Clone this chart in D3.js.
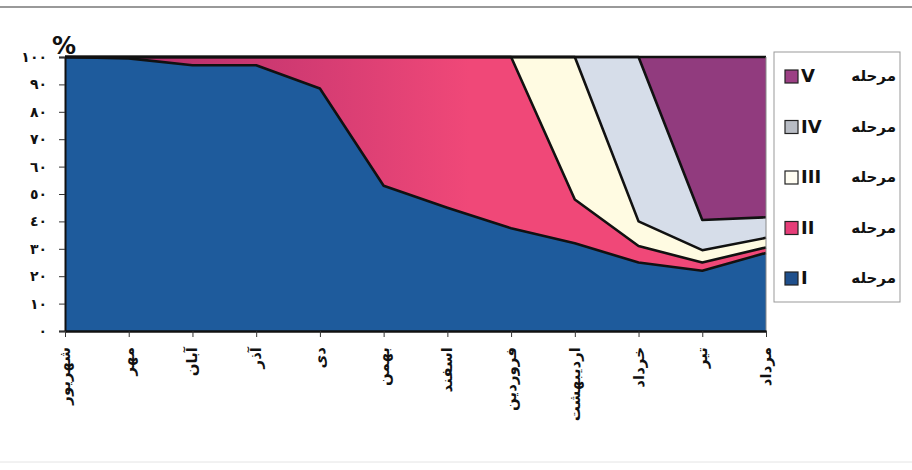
<!DOCTYPE html>
<html>
<head>
<meta charset="utf-8">
<script src="https://cdn.jsdelivr.net/npm/d3@7"></script>
<style>
  body { margin: 0; background: #fff; }
  text { font-family: "DejaVu Sans", sans-serif; font-weight: bold; fill: #111; }
</style>
</head>
<body>
<div id="chart"></div>
<script>
const months = ['شهریور', 'مهر', 'آبان', 'آذر', 'دی', 'بهمن', 'اسفند', 'فروردین', 'اردیبهشت', 'خرداد', 'تیر', 'مرداد'];
const stage1 = [100, 99.5, 97, 97, 88.5, 53, 45, 37.5, 32, 25, 22, 28.5];
const stage2 = [0, 0.5, 3, 3, 11.5, 47, 55, 62.5, 16, 6, 3, 2];
const stage3 = [0, 0, 0, 0, 0, 0, 0, 0, 52, 9, 4.5, 3.5];
const stage4 = [0, 0, 0, 0, 0, 0, 0, 0, 0, 60, 11, 7.5];
const stage5 = [0, 0, 0, 0, 0, 0, 0, 0, 0, 0, 59.5, 58.5];
const yTicks = [0, 10, 20, 30, 40, 50, 60, 70, 80, 90, 100];
const stageNames = ['I', 'II', 'III', 'IV', 'V'];

const width = 912;
const height = 470;
const plotLeft = 65;
const plotRight = 766;
const plotTop = 57;
const plotBottom = 331;

const rows = months.map((m, i) => ({
  month: m, I: stage1[i], II: stage2[i], III: stage3[i], IV: stage4[i], V: stage5[i],
}));

const svg = d3.select('#chart').append('svg')
  .attr('width', width)
  .attr('height', height);

// thin rules of the scanned page
svg.append('line').attr('x1', 0).attr('x2', width).attr('y1', 7).attr('y2', 7)
  .attr('stroke', '#777').attr('stroke-width', 1.5);
svg.append('line').attr('x1', 0).attr('x2', width).attr('y1', 462).attr('y2', 462)
  .attr('stroke', '#e4e4e4').attr('stroke-width', 1);

const defs = svg.append('defs');
const pinkGradient = defs.append('linearGradient')
  .attr('id', 'pinkGrad')
  .attr('gradientUnits', 'userSpaceOnUse')
  .attr('x1', plotLeft).attr('y1', 0)
  .attr('x2', 470).attr('y2', 0);
pinkGradient.append('stop').attr('offset', '0%').attr('stop-color', '#a8296a');
pinkGradient.append('stop').attr('offset', '100%').attr('stop-color', '#f04878');

const colors = {
  I: '#1e5b9c', II: 'url(#pinkGrad)', III: '#fffbe2', IV: '#d6dde9', V: '#913b7e',
};
const swatch = {
  I: '#1e4f8c', II: '#e63d78', III: '#fffdf2', IV: '#b8bcc4', V: '#9c3f84',
};

const x = d3.scalePoint().domain(months).range([plotLeft, plotRight]);
const y = d3.scaleLinear().domain([0, 100]).range([plotBottom, plotTop]);

const series = d3.stack().keys(stageNames)(rows);

const area = d3.area()
  .x((d) => x(d.data.month))
  .y0((d) => y(d[0]))
  .y1((d) => y(Math.min(100, d[1])));

const line = d3.line()
  .x((d) => x(d.data.month))
  .y((d) => y(Math.min(100, d[1])));

svg.append('g').selectAll('path')
  .data(series)
  .enter()
  .append('path')
  .attr('d', area)
  .attr('fill', (d) => colors[d.key]);

svg.append('g').selectAll('path')
  .data(series.slice(0, 4))
  .enter()
  .append('path')
  .attr('d', line)
  .attr('fill', 'none')
  .attr('stroke', '#111')
  .attr('stroke-width', 2.6)
  .attr('stroke-linejoin', 'round');

// frame: top thick, right thin
svg.append('line').attr('x1', plotLeft).attr('x2', plotRight).attr('y1', plotTop).attr('y2', plotTop)
  .attr('stroke', '#111').attr('stroke-width', 2.5);
svg.append('line').attr('x1', plotRight).attr('x2', plotRight).attr('y1', plotTop).attr('y2', plotBottom)
  .attr('stroke', '#888').attr('stroke-width', 1);

const toFa = (v) => String(v).replace(/\d/g, (c) => '٠١٢٣٤٥٦٧٨٩'[+c]);

const yAxis = svg.append('g')
  .attr('transform', `translate(${plotLeft},0)`)
  .call(d3.axisLeft(y).tickValues(yTicks).tickSize(6).tickPadding(12).tickFormat(toFa));
yAxis.select('.domain').attr('stroke', '#111').attr('stroke-width', 2);
yAxis.selectAll('.tick line').attr('stroke', '#333');
yAxis.selectAll('.tick text').attr('font-size', 14).attr('font-weight', 'bold');

const xAxis = svg.append('g')
  .attr('transform', `translate(0,${plotBottom})`)
  .call(d3.axisBottom(x).tickSize(6).tickSizeOuter(0));
xAxis.select('.domain').attr('stroke', '#111').attr('stroke-width', 2.5);
xAxis.selectAll('.tick line').attr('stroke', '#333');
xAxis.selectAll('.tick text')
  .attr('font-size', 15)
  .attr('font-weight', 'bold')
  .attr('text-anchor', 'end')
  .attr('dy', '0.3em')
  .attr('transform', 'translate(0,16) rotate(-90)')
  .attr('x', 0)
  .attr('y', 0);

svg.append('text')
  .attr('x', 52)
  .attr('y', 54)
  .attr('font-size', 24)
  .text('%');

// legend
const legend = svg.append('g');
legend.append('rect')
  .attr('x', 774).attr('y', 52)
  .attr('width', 126).attr('height', 250)
  .attr('fill', '#fff')
  .attr('stroke', '#999')
  .attr('stroke-width', 1);

const legendRows = stageNames.slice().reverse();
const ly = d3.scalePoint().domain(legendRows).range([76, 278]);

const item = legend.selectAll('g.item')
  .data(legendRows)
  .enter()
  .append('g')
  .attr('class', 'item')
  .attr('transform', (d) => `translate(0,${ly(d)})`);
item.append('rect')
  .attr('x', 785).attr('y', -6)
  .attr('width', 13).attr('height', 13)
  .attr('fill', (d) => swatch[d])
  .attr('stroke', '#222')
  .attr('stroke-width', 1.2);
item.append('text')
  .attr('x', 801)
  .attr('dy', '0.36em')
  .attr('font-size', 18)
  .attr('font-family', 'Liberation Sans, Arial, sans-serif')
  .text((d) => d);
item.append('text')
  .attr('x', 896)
  .attr('dy', '0.36em')
  .attr('text-anchor', 'end')
  .attr('font-size', 15)
  .text('مرحله');
</script>
</body>
</html>
